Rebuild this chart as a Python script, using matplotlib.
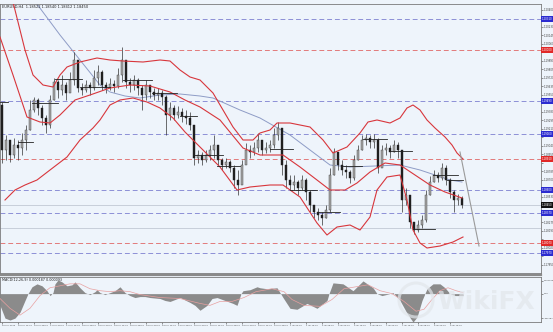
import numpy as np
import matplotlib
matplotlib.use("Agg")
import matplotlib.pyplot as plt
from matplotlib.patches import Ellipse
from matplotlib.transforms import blended_transform_factory

# --- price bars (H4), open = previous close ---
close = [1.1900, 1.1910, 1.1895, 1.1905, 1.1902, 1.1910, 1.1920, 1.1940, 1.1950, 1.1942,
         1.1932, 1.1925, 1.1950, 1.1968, 1.1960, 1.1965, 1.1957, 1.1970, 1.1990, 1.1962,
         1.1960, 1.1965, 1.1962, 1.1972, 1.1978, 1.1965, 1.1962, 1.1966, 1.1964, 1.1975,
         1.1990, 1.1968, 1.1965, 1.1970, 1.1962, 1.1955, 1.1965, 1.1958, 1.1955, 1.1957,
         1.1953, 1.1935, 1.1942, 1.1935, 1.1938, 1.1934, 1.1932, 1.1925, 1.1892, 1.1895,
         1.1890, 1.1895, 1.1900, 1.1905, 1.1890, 1.1885, 1.1888, 1.1882, 1.1870, 1.1865,
         1.1885, 1.1900, 1.1898, 1.1902, 1.1910, 1.1900, 1.1902, 1.1905, 1.1915, 1.1922,
         1.1885, 1.1870, 1.1865, 1.1868, 1.1862, 1.1870, 1.1858, 1.1845, 1.1838, 1.1835,
         1.1832, 1.1840, 1.1875, 1.1898, 1.1885, 1.1880, 1.1878, 1.1872, 1.1890, 1.1900,
         1.1910, 1.1912, 1.1908, 1.1910, 1.1882, 1.1900, 1.1902, 1.1898, 1.1905, 1.1900,
         1.1850, 1.1855, 1.1828, 1.1820, 1.1825, 1.1830, 1.1855, 1.1868, 1.1875, 1.1872,
         1.1882, 1.1870, 1.1858, 1.1850, 1.1852, 1.1845]
high = [1.1948, 1.1915, 1.1910, 1.1912, 1.1910, 1.1917, 1.1925, 1.1950, 1.1953, 1.1952,
        1.1945, 1.1935, 1.1955, 1.1972, 1.1970, 1.1975, 1.1968, 1.1978, 1.1998, 1.1988,
        1.1967, 1.1970, 1.1968, 1.1980, 1.1985, 1.1980, 1.1968, 1.1972, 1.1970, 1.1982,
        1.2003, 1.1990, 1.1972, 1.1975, 1.1972, 1.1965, 1.1970, 1.1965, 1.1962, 1.1962,
        1.1960, 1.1955, 1.1948, 1.1945, 1.1944, 1.1942, 1.1940, 1.1938, 1.1920, 1.1900,
        1.1898, 1.1900, 1.1905, 1.1915, 1.1902, 1.1892, 1.1892, 1.1890, 1.1885, 1.1880,
        1.1890, 1.1907, 1.1905, 1.1908, 1.1917, 1.1910, 1.1908, 1.1910, 1.1922, 1.1928,
        1.1920, 1.1890, 1.1875, 1.1875, 1.1870, 1.1875, 1.1872, 1.1860, 1.1845, 1.1842,
        1.1838, 1.1845, 1.1882, 1.1902, 1.1898, 1.1890, 1.1885, 1.1880, 1.1895, 1.1905,
        1.1915, 1.1916, 1.1915, 1.1916, 1.1912, 1.1905, 1.1907, 1.1905, 1.1910, 1.1908,
        1.1900, 1.1862, 1.1855, 1.1828, 1.1830, 1.1835, 1.1860, 1.1874, 1.1880, 1.1878,
        1.1887, 1.1885, 1.1872, 1.1860, 1.1856, 1.1854]
low = [1.1887, 1.1890, 1.1888, 1.1892, 1.1890, 1.1895, 1.1900, 1.1920, 1.1938, 1.1935,
       1.1925, 1.1917, 1.1922, 1.1950, 1.1952, 1.1955, 1.1950, 1.1958, 1.1965, 1.1958,
       1.1955, 1.1958, 1.1955, 1.1960, 1.1965, 1.1960, 1.1957, 1.1960, 1.1958, 1.1962,
       1.1968, 1.1962, 1.1958, 1.1960, 1.1955, 1.1940, 1.1950, 1.1952, 1.1950, 1.1950,
       1.1945, 1.1915, 1.1930, 1.1930, 1.1932, 1.1928, 1.1926, 1.1920, 1.1885, 1.1887,
       1.1885, 1.1888, 1.1890, 1.1892, 1.1885, 1.1880, 1.1882, 1.1878, 1.1862, 1.1855,
       1.1870, 1.1890, 1.1892, 1.1895, 1.1898, 1.1895, 1.1897, 1.1898, 1.1902, 1.1910,
       1.1875, 1.1862, 1.1860, 1.1860, 1.1855, 1.1860, 1.1850, 1.1838, 1.1832, 1.1830,
       1.1825, 1.1832, 1.1838, 1.1875, 1.1880, 1.1875, 1.1872, 1.1867, 1.1870, 1.1890,
       1.1900, 1.1905, 1.1902, 1.1902, 1.1877, 1.1885, 1.1895, 1.1892, 1.1898, 1.1892,
       1.1838, 1.1845, 1.1822, 1.1816, 1.1818, 1.1822, 1.1828, 1.1855, 1.1868, 1.1868,
       1.1870, 1.1865, 1.1852, 1.1838, 1.1845, 1.1842]
first_open = 1.1945

# --- bollinger bands and slow MA, read at sample points (bar time, price) ---
upper_t = [2.5, 5.0, 6.25, 8.25, 10.75, 13.25, 15.0, 16.75, 20.0, 24.25, 27.5, 30.75, 35.75,
           40.0, 42.5, 45.0, 47.5, 50.0, 53.25, 55.75, 58.25, 60.75, 63.25, 65.0, 67.5, 69.25,
           72.5, 77.5, 80.75, 83.25, 86.75, 90.0, 92.0, 94.25, 97.5, 100.0, 101.75, 103.25,
           105.0, 106.75, 108.75, 111.25, 113.0, 114.25, 115.75]
upper_p = [1.2060, 1.2020, 1.2000, 1.1975, 1.1965, 1.1963, 1.1975, 1.1983, 1.1988, 1.1992,
           1.1990, 1.1989, 1.1988, 1.1990, 1.1989, 1.1980, 1.1973, 1.1970, 1.1957, 1.1940,
           1.1923, 1.1910, 1.1910, 1.1917, 1.1920, 1.1927, 1.1927, 1.1923, 1.1910, 1.1897,
           1.1903, 1.1917, 1.1928, 1.1930, 1.1927, 1.1932, 1.1942, 1.1945, 1.1940, 1.1930,
           1.1922, 1.1913, 1.1905, 1.1897, 1.1891]
middle_t = [0.0, 3.25, 6.75, 10.0, 12.5, 15.0, 18.75, 22.5, 27.5, 32.5, 37.5, 42.5, 46.25,
            50.0, 55.0, 60.75, 65.0, 70.75, 75.0, 79.25, 82.5, 86.25, 89.25, 92.5, 96.25,
            100.0, 103.75, 107.5, 111.25, 115.5]
middle_p = [1.2013, 1.1975, 1.1933, 1.1928, 1.1927, 1.1935, 1.1950, 1.1955, 1.1962, 1.1965,
            1.1964, 1.1958, 1.1950, 1.1943, 1.1930, 1.1902, 1.1895, 1.1895, 1.1883, 1.1870,
            1.1860, 1.1860, 1.1867, 1.1878, 1.1887, 1.1885, 1.1875, 1.1865, 1.1858, 1.1852]
lower_t = [1.25, 3.75, 6.25, 9.25, 12.5, 16.75, 20.0, 23.25, 25.0, 27.5, 30.0, 33.25, 36.75,
           40.0, 43.25, 46.25, 50.0, 55.0, 59.25, 62.5, 67.5, 70.75, 75.0, 79.25, 81.75,
           84.25, 87.5, 90.0, 92.5, 94.25, 96.75, 100.0, 101.75, 103.25, 105.0, 106.75,
           110.0, 113.25, 115.75]
lower_p = [1.1850, 1.1860, 1.1865, 1.1870, 1.1880, 1.1893, 1.1910, 1.1922, 1.1930, 1.1945,
           1.1950, 1.1952, 1.1948, 1.1942, 1.1932, 1.1918, 1.1903, 1.1883, 1.1860, 1.1863,
           1.1865, 1.1865, 1.1853, 1.1827, 1.1815, 1.1823, 1.1825, 1.1820, 1.1833, 1.1860,
           1.1873, 1.1875, 1.1850, 1.1820, 1.1807, 1.1802, 1.1804, 1.1808, 1.1813]
slow_t = [7.0, 15.0, 20.0, 25.0, 27.5, 31.25, 35.0, 40.0, 45.0, 50.0, 53.25, 60.0, 65.0,
          72.5, 77.5, 82.5, 87.5, 93.75, 100.0, 105.0, 112.5, 115.5]
slow_p = [1.2058, 1.2015, 1.1990, 1.1965, 1.1958, 1.1954, 1.1952, 1.1955, 1.1956, 1.1954,
          1.1952, 1.1940, 1.1932, 1.1915, 1.1900, 1.1885, 1.1883, 1.1884, 1.1885, 1.1880,
          1.1870, 1.1868]

# short horizontal level marks: (price, start, end)
marks = [(1.1948, 0.0, 2.0), (1.1947, 8.0, 14.5), (1.1908, 4.5, 8.25), (1.1971, 13.75, 20.5),
         (1.1963, 20.0, 27.5), (1.1970, 30.75, 38.0), (1.1957, 38.0, 44.25),
         (1.1934, 45.0, 49.25), (1.1895, 48.25, 55.75), (1.1884, 54.25, 60.0),
         (1.1901, 67.5, 73.25), (1.1860, 72.5, 79.25), (1.1838, 79.25, 85.0),
         (1.1884, 85.75, 90.5), (1.1911, 90.75, 96.75), (1.1899, 97.5, 103.0),
         (1.1821, 103.25, 108.75), (1.1875, 108.25, 114.5), (1.1870, 111.75, 115.75)]

blue_levels = [1.2031, 1.1949, 1.1916, 1.1860, 1.1837, 1.1797]
red_levels = [1.2000, 1.1891, 1.1807]
gray_levels = [1.1822]
last_price = 1.1845
proj_t = [115.0, 119.75]
proj_p = [1.1898, 1.1804]

# --- MACD histogram and signal ---
macd_t = [0, 1.25, 2.5, 3.75, 5, 6.25, 7, 8, 9.25, 10.5, 11.75, 12.5, 13.25, 13.75, 14.5, 15.5,
          16.75, 18, 18.75, 20, 21.25, 22.5, 23.75, 24.25, 25, 26.25, 27.5, 28.75, 30, 31.25,
          32.5, 33.75, 35, 36.25, 37.5, 40, 41.25, 42.5, 43.75, 45, 47.5, 48.75, 50, 51.75,
          53, 54.25, 56.25, 58.25, 59.25, 60.25, 60.75, 62.5, 64.25, 65, 66.75, 69.25, 70,
          70.75, 72.5, 74.25, 76.75, 79.25, 81.75, 82.25, 83.25, 85.75, 88.25, 90.75, 93.25,
          94.25, 95.5, 97.5, 98.25, 100, 101.75, 103.25, 104.25, 105.5, 106.75, 108.25, 110,
          111.25, 112.5, 113.75, 115.75]
macd_v = [-0.0012, -0.0025, -0.0027, -0.0025, -0.0019, -0.0007, 0.0, 0.0007, 0.0010, 0.0008,
          0.0003, -0.0002, 0.0001, 0.0010, 0.0014, 0.0012, 0.0008, 0.0009, 0.0012, 0.0006,
          0.0001, -0.0001, 0.0002, 0.0004, 0.0001, -0.0001, 0.0001, 0.0003, 0.0007, 0.0001,
          -0.0002, -0.0004, -0.0003, -0.0003, -0.0004, -0.0005, -0.0007, -0.0008, -0.0006,
          -0.0004, -0.0009, -0.0012, -0.0017, -0.0012, -0.0005, -0.0004, -0.0007, -0.0010,
          -0.0012, 0.0, 0.0003, 0.0004, 0.0007, 0.0006, 0.0005, 0.0006, 0.0001, -0.0004,
          -0.0015, -0.0016, -0.0010, -0.0015, -0.0007, 0.0, 0.0011, 0.0010, 0.0003, 0.0013,
          0.0006, 0.0, -0.0002, 0.0, 0.0001, -0.0007, -0.0020, -0.0029, -0.0024, -0.0007,
          0.0005, 0.0010, 0.0010, 0.0006, 0.0, -0.0002, -0.0002]
signal_t = [0, 2.5, 5, 7.5, 10, 12.5, 15, 17.5, 20, 22.5, 25, 27.5, 30, 32.5, 35, 40, 45, 50,
            52.5, 55, 58, 61, 64, 68, 71, 73, 76, 80, 83, 86, 89, 92, 95, 98, 101, 104, 106,
            108, 110, 112, 114, 115.75]
signal_v = [-0.0005, -0.0015, -0.0022, -0.0015, -0.0002, 0.0006, 0.0008, 0.0010, 0.0010,
            0.0005, 0.0003, 0.0002, 0.0003, 0.0002, -0.0001, -0.0004, -0.0005, -0.0010,
            -0.0012, -0.0008, -0.0008, -0.0004, 0.0002, 0.0005, 0.0002, -0.0006, -0.0012,
            -0.0013, -0.0006, 0.0005, 0.0007, 0.0009, 0.0003, 0.0, -0.0008, -0.0018, -0.0016,
            -0.0006, 0.0003, 0.0006, 0.0003, 0.0001]

time_labels = ["15 Jun 2020", "15 Jun 16:00", "16 Jun 08:00", "17 Jun 00:00", "17 Jun 16:00",
               "18 Jun 08:00", "19 Jun 00:00", "19 Jun 16:00", "22 Jun 08:00", "23 Jun 00:00",
               "23 Jun 16:00", "24 Jun 08:00", "25 Jun 00:00", "25 Jun 16:00", "26 Jun 08:00",
               "29 Jun 00:00", "29 Jun 16:00", "30 Jun 08:00", "1 Jul 00:00", "1 Jul 16:00",
               "2 Jul 08:00", "3 Jul 00:00", "3 Jul 16:00", "6 Jul 08:00", "7 Jul 00:00",
               "7 Jul 16:00", "8 Jul 08:00", "9 Jul 00:00", "9 Jul 16:00"]

BG = "#eef4fb"
RED = "#d8363c"
BLUE_DASH = "#8c8fd6"
RED_DASH = "#e27a7a"

W, H = 553, 332
fig = plt.figure(figsize=(W / 100, H / 100), dpi=100, facecolor=BG)


def px_axes(left, top, right, bottom):
    return fig.add_axes([left / W, 1 - bottom / H, (right - left) / W, (bottom - top) / H])


ax = px_axes(0, 4, 541, 273)
osc = px_axes(0, 277, 541, 322)

for a in (ax, osc):
    a.set_facecolor(BG)
    a.set_xlim(0, 135.25)
    for s in a.spines.values():
        s.set_color("#7a7a7a")
        s.set_linewidth(0.6)
    a.yaxis.tick_right()
    a.tick_params(axis="y", labelsize=1.9, length=1.2, width=0.4, colors="#444", pad=0.6)

ax.set_ylim(1.1777, 1.2046)

# levels
for lv in blue_levels:
    ax.axhline(lv, color=BLUE_DASH, lw=0.7, ls=(0, (5, 3)), zorder=1)
for lv in red_levels:
    ax.axhline(lv, color=RED_DASH, lw=0.7, ls=(0, (5, 3)), zorder=1)
for lv in gray_levels + [last_price]:
    ax.axhline(lv, color="#b8bfcc", lw=0.5, zorder=1)

# candles
close = np.array(close)
opens = np.concatenate([[first_open], close[:-1]])
t = np.arange(len(close)) + 0.5
up = close >= opens
ax.vlines(t, low, high, color="#333333", lw=0.5, zorder=3)
ax.bar(t[up], close[up] - opens[up], bottom=opens[up], width=0.55,
       color="#a9a9a9", edgecolor="#3a3a3a", lw=0.3, zorder=4)
ax.bar(t[~up], close[~up] - opens[~up], bottom=opens[~up], width=0.55,
       color="#1f1f1f", edgecolor="#1f1f1f", lw=0.3, zorder=4)

# bands / moving average
ax.plot(slow_t, slow_p, color="#8e9cc6", lw=0.7, zorder=2)
for bt, bp in ((upper_t, upper_p), (middle_t, middle_p), (lower_t, lower_p)):
    ax.plot(bt, bp, color=RED, lw=0.8, zorder=5)
for lv, t0, t1 in marks:
    ax.plot([t0, t1], [lv, lv], color="#222222", lw=0.6, zorder=5)
ax.plot(proj_t, proj_p, color="#9a9a9a", lw=0.8, zorder=5)

# price axis: plain ticks, skipped where a coloured level box sits
boxed = blue_levels + red_levels + [last_price]


def price_fmt(v, pos):
    if min(abs(v - b) for b in boxed) < 0.0004:
        return ""
    return f"{v:.5f}"


ax.set_yticks(np.arange(1.1785, 1.2046, 0.00085))
ax.yaxis.set_major_formatter(price_fmt)
ax.set_xticks([])
tr = blended_transform_factory(ax.transAxes, ax.transData)
for levels, c in ((blue_levels, "#2b2bd0"), (red_levels, "#e02828"), ([last_price], "#111111")):
    for lv in levels:
        ax.text(1.002, lv, f"{lv:.5f}", transform=tr, fontsize=1.9, color="white",
                va="center", ha="left", clip_on=False, zorder=10,
                bbox=dict(boxstyle="square,pad=0.3", fc=c, ec="none"))
ax.text(0.004, 0.997, "EURUSD,H4  1.18522 1.18540 1.18412 1.18450", transform=ax.transAxes,
        fontsize=2.6, color="#222", va="top", ha="left")

# oscillator panel
osc.set_ylim(-0.0029, 0.0017)
osc.fill_between(macd_t, 0, macd_v, color="#8b8b8b", lw=0, zorder=2)
osc.plot(signal_t, signal_v, color="#e8a0a0", lw=0.5, zorder=3)
osc.set_yticks([0.0013, 0.0, -0.0025])
osc.set_yticklabels(["0.001659", "0.00", "-0.002873"])
osc.tick_params(axis="y", labelsize=1.5)
osc.set_xticks(np.arange(len(time_labels)) * 4 + 0.5)
osc.set_xticklabels(time_labels, ha="left")
osc.tick_params(axis="x", labelsize=1.6, length=1.2, width=0.4, colors="#444", pad=0.8)
osc.text(0.004, 0.97, "MACD(12,26,9) 0.000187 0.000093", transform=osc.transAxes,
         fontsize=2.4, color="#222", va="top", ha="left")

# separator between panels
fig.add_artist(plt.Line2D([0, 541 / W], [1 - 275 / H] * 2, color="#8a8a8a", lw=1.6))

# watermark
fig.patches.append(Ellipse((416 / W, 1 - 300 / H), 34 / W, 34 / H, transform=fig.transFigure,
                           fill=False, ec="#e2e6eb", lw=2.2, alpha=0.7, zorder=20))
fig.text(437 / W, 1 - 302 / H, "WikiFX", fontsize=18, color="#e2e6eb", alpha=0.7,
         va="center", ha="left", weight="bold", zorder=20)

fig.savefig("out.png", dpi=100, facecolor=BG)
